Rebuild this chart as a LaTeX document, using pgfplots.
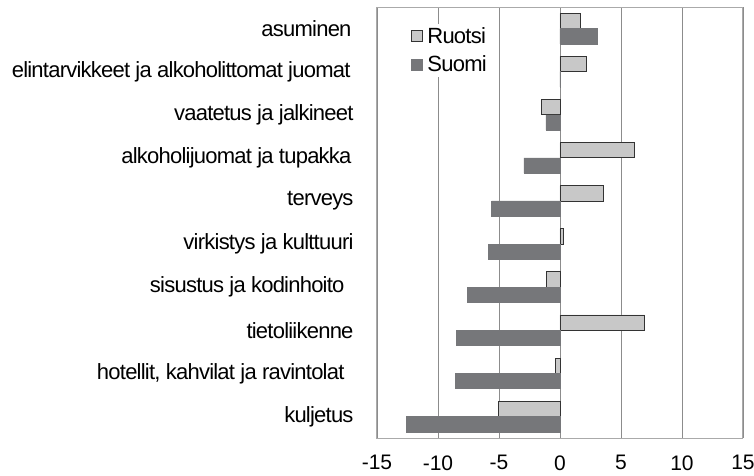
\documentclass[border=0pt]{standalone}
\usepackage{fontspec}
\setmainfont{Liberation Sans}
\newfontfamily\labelfont[LetterSpace=-3.5]{Liberation Sans}
\usepackage{pgfplots}
\pgfplotsset{compat=1.18}
\definecolor{lightbar}{RGB}{200,200,200}
\definecolor{darkbar}{RGB}{118,119,122}
\definecolor{gridc}{RGB}{140,140,140}
\definecolor{framec}{RGB}{170,170,170}
\begin{document}
\begin{tikzpicture}
\useasboundingbox (-377pt,-37pt) rectangle (377pt,438pt);
\begin{axis}[
 at={(0pt,0pt)}, anchor=south west,
 scale only axis, width=366pt, height=431pt,
 xbar, bar width=15.3pt,
 xmin=-15, xmax=15, ymin=-0.5, ymax=9.5,
 xtick={-15,-10,...,15},
 ytick={0,...,9},
 yticklabels={kuljetus, {hotellit, kahvilat ja ravintolat\kern9pt}, tietoliikenne, {sisustus ja kodinhoito\kern9pt}, virkistys ja kulttuuri, terveys, {alkoholijuomat ja tupakka\kern2pt}, vaatetus ja jalkineet, {elintarvikkeet ja alkoholittomat juomat\kern3pt}, {asuminen\kern2pt}},
 major tick length=0pt,
 xmajorgrids, grid style={gridc, line width=0.8pt},
 axis line style={framec, line width=1pt},
 tick label style={font=\fontsize{21}{24}\selectfont},
 yticklabel style={font=\labelfont\fontsize{22}{26}\selectfont, xshift=-20pt},
 xticklabel style={yshift=-14pt},
 /pgf/number format/assume math mode=true,
 legend style={at={(0.083,0.962)}, anchor=north west, draw=none, fill=white,
   font=\labelfont\fontsize{22}{26}\selectfont, row sep=9pt, inner sep=3pt,
   nodes={inner sep=1pt}},
 legend cell align=left,
]
\addplot[fill=lightbar, draw=black!80, line width=0.9pt, bar shift=7.65pt,
  legend image code/.code={\draw[fill=lightbar, draw=black!80, line width=0.8pt] (0pt,-5.5pt) rectangle (11pt,5.5pt); \path (15pt,0pt);}]
 coordinates {(-5.05,0) (-0.4,1) (6.94,2) (-1.09,3) (0.28,4) (3.53,5) (6.1,6) (-1.53,7) (2.16,8) (1.67,9)};
\addlegendentry{Ruotsi}
\addplot[fill=darkbar, draw=darkbar, line width=0.5pt, bar shift=-7.65pt,
  legend image code/.code={\draw[fill=darkbar, draw=darkbar] (0pt,-5.5pt) rectangle (11pt,5.5pt); \path (15pt,0pt);}]
 coordinates {(-12.57,0) (-8.55,1) (-8.52,2) (-7.6,3) (-5.9,4) (-5.6,5) (-2.97,6) (-1.15,7) (0.05,8) (3.03,9)};
\addlegendentry{Suomi}
\end{axis}
\end{tikzpicture}
\end{document}
